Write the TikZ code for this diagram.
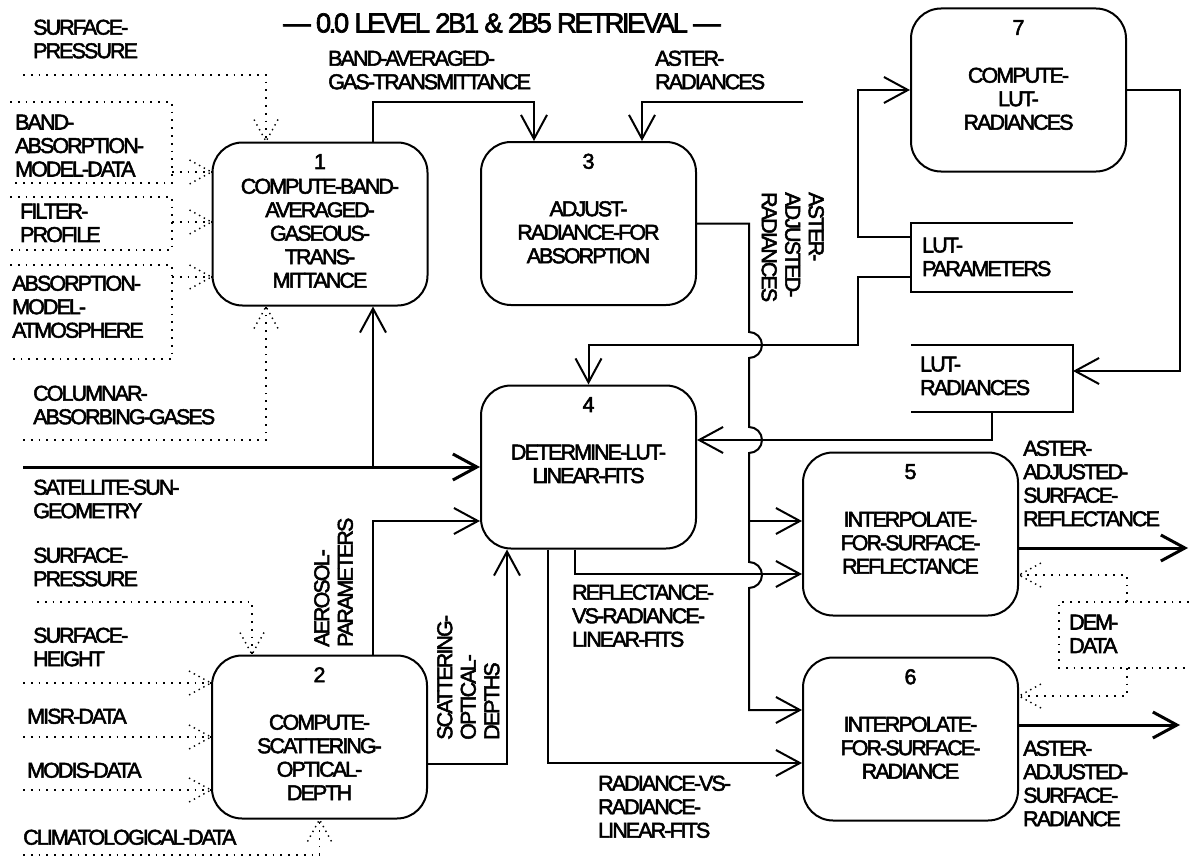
\documentclass[tikz,border=0pt]{standalone}
\usepackage{fontspec}
\setmainfont{Liberation Sans}[LetterSpace=-9,FakeBold=2.4]
\usetikzlibrary{arrows.meta}

\begin{document}
\begin{tikzpicture}[x=1pt,y=-1pt,
		every node/.style={font=\fontsize{21.5}{23.5}\selectfont,inner sep=0pt},
		proc/.style={draw,line width=2pt,rounded corners=30pt,minimum width=215pt,minimum height=163pt},
		lbl/.style={align=left,anchor=north west},
		ctr/.style={align=center,anchor=north},
		flow/.style={line width=2pt,-{Straight Barb[length=24pt,width=26pt]}},
		thickflow/.style={flow,line width=3pt},
		dotline/.style={line width=1.8pt,dash pattern=on 1.8pt off 6pt},
		store/.style={line width=2pt}]
		\useasboundingbox (0,0) rectangle (1189,859);
		\node[font=\fontsize{27.5}{29}\selectfont] (title) at (502,23) {— 0.0 LEVEL 2B1 \& 2B5 RETRIEVAL —};
		% processes
		\node[proc] (p1) at (320,224) {};
		\node[ctr] (p1n) at ([yshift=-12.5pt]p1.north) {1};
		\node[ctr] (p1t) at ([yshift=-37pt]p1.north) {COMPUTE-BAND-\\AVERAGED-\\GASEOUS-\\TRANS-\\MITTANCE};
		\node[proc] (p3) at (588.5,223.5) {};
		\node[ctr] (p3n) at ([yshift=-12.5pt]p3.north) {3};
		\node[ctr] (p3t) at ([yshift=-60pt]p3.north) {ADJUST-\\RADIANCE-FOR\\ABSORPTION};
		\node[proc] (p7) at (1018.5,90) {};
		\node[ctr] (p7n) at ([yshift=-12.5pt]p7.north) {7};
		\node[ctr] (p7t) at ([yshift=-60pt]p7.north) {COMPUTE-\\LUT-\\RADIANCES};
		\node[proc] (p4) at (588.5,467) {};
		\node[ctr] (p4n) at ([yshift=-12.5pt]p4.north) {4};
		\node[ctr] (p4t) at ([yshift=-60pt]p4.north) {DETERMINE-LUT-\\LINEAR-FITS};
		\node[proc] (p2) at (319.5,737) {};
		\node[ctr] (p2n) at ([yshift=-12.5pt]p2.north) {2};
		\node[ctr] (p2t) at ([yshift=-60pt]p2.north) {COMPUTE-\\SCATTERING-\\OPTICAL-\\DEPTH};
		\node[proc] (p5) at (910.5,534) {};
		\node[ctr] (p5n) at ([yshift=-12.5pt]p5.north) {5};
		\node[ctr] (p5t) at ([yshift=-60pt]p5.north) {INTERPOLATE-\\FOR-SURFACE-\\REFLECTANCE};
		\node[proc] (p6) at (910.5,739) {};
		\node[ctr] (p6n) at ([yshift=-12.5pt]p6.north) {6};
		\node[ctr] (p6t) at ([yshift=-60pt]p6.north) {INTERPOLATE-\\FOR-SURFACE-\\RADIANCE};
		% external data
		\node[lbl] (srfp1) at (33,19.5) {SURFACE-\\PRESSURE};
		\node[lbl] (bamd) at (15,114.5) {BAND-\\ABSORPTION-\\MODEL-DATA};
		\node[lbl] (fprof) at (20,203.5) {FILTER-\\PROFILE};
		\node[lbl] (amatm) at (12,275.5) {ABSORPTION-\\MODEL-\\ATMOSPHERE};
		\node[lbl] (colgas) at (33,385.5) {COLUMNAR-\\ABSORBING-GASES};
		\node[lbl] (satsun) at (33,479.5) {SATELLITE-SUN-\\GEOMETRY};
		\node[lbl] (srfp2) at (33,547.5) {SURFACE-\\PRESSURE};
		\node[lbl] (srfh) at (33,627.5) {SURFACE-\\HEIGHT};
		\node[lbl] (misr) at (27,708.5) {MISR-DATA};
		\node[lbl] (modis) at (27,762.5) {MODIS-DATA};
		\node[lbl] (clim) at (23,829.5) {CLIMATOLOGICAL-DATA};
		\node[lbl] (dem) at (1069,614.5) {DEM-\\DATA};
		% flow labels
		\node[lbl] (bagt) at (328,50.5) {BAND-AVERAGED-\\GAS-TRANSMITTANCE};
		\node[lbl] (astr) at (655,50.5) {ASTER-\\RADIANCES};
		\node[lbl,rotate=-90] (aadj) at (824,192) {ASTER-\\ADJUSTED-\\RADIANCES};
		\node[lbl] (lutp) at (922,237.5) {LUT-\\PARAMETERS};
		\node[lbl] (lutr) at (920,356.5) {LUT-\\RADIANCES};
		\node[lbl,rotate=90] (aerp) at (314,647) {AEROSOL-\\PARAMETERS};
		\node[lbl,rotate=90] (scod) at (437,740) {SCATTERING-\\OPTICAL-\\DEPTHS};
		\node[lbl] (rvr) at (572,584.5) {REFLECTANCE-\\VS-RADIANCE-\\LINEAR-FITS};
		\node[lbl] (rvsr) at (598,775.5) {RADIANCE-VS-\\RADIANCE-\\LINEAR-FITS};
		\node[lbl] (asrf) at (1023,440.5) {ASTER-\\ADJUSTED-\\SURFACE-\\REFLECTANCE};
		\node[lbl] (asrd) at (1023,740.5) {ASTER-\\ADJUSTED-\\SURFACE-\\RADIANCE};
		% stores
		\draw[dotline] (10,102) -| (172,183) -- (10,183);
		\draw[dotline] (10,197) -| (172,250) -- (10,250);
		\draw[dotline] (10,265) -| (172,359) -- (10,359);
		\draw[store] (1073,223) -| (911,292) -- (1073,292);
		\draw[store] (911,345) -| (1073,412) -- (911,412);
		\draw[dotline] (1189,602) -| (1059,668) -- (1189,668);
		% solid flows
		\coordinate (astrin) at (803,102);
		\coordinate (satin) at (23,467);
		\coordinate (lutpa) at (911,237);
		\coordinate (lutpb) at (911,277);
		\coordinate (lutrin) at (1073,371);
		\coordinate (lutrout) at (992,412);
		\coordinate (asrfout) at (1188,548);
		\coordinate (asrdout) at (1180,725);
		\draw[flow] ([xshift=53pt]p1.north) |- (534,102) -- ([xshift=-54.5pt]p3.north);
		\draw[flow] (astrin) -| ([xshift=53.5pt]p3.north);
		\draw[flow] (p3.east) -| (749,332) arc[start angle=-90,end angle=90,radius=13]
			-- (749,427) arc[start angle=-90,end angle=90,radius=13]
			-- (749,562) arc[start angle=-90,end angle=90,radius=13]
			|- ([yshift=29pt]p6.west);
		\draw[flow] (749,521) -- ([yshift=13pt]p5.west);
		\draw[flow] (lutpa) -| (858,90) -- (p7.west);
		\draw[flow] (lutpb) -| (858,345) -| (p4.north);
		\draw[flow] (p7.east) -| (1180,371) -- (lutrin);
		\draw[flow] (lutrout) |- ([yshift=27pt]p4.east);
		\draw[thickflow] (satin) -- (p4.west);
		\draw[flow] (373,467) -- ([xshift=53pt]p1.south);
		\draw[flow] ([xshift=53.5pt]p2.north) |- ([yshift=-54pt]p4.west);
		\draw[flow] ([yshift=-27pt]p2.east) -| ([xshift=-81.5pt]p4.south);
		\draw[flow] ([xshift=-13.5pt]p4.south) |- ([yshift=-40pt]p5.west);
		\draw[flow] ([xshift=-40.5pt]p4.south) |- ([yshift=-24pt]p6.west);
		\draw[thickflow] ([yshift=-14pt]p5.east) -- (asrfout);
		\draw[thickflow] ([yshift=14pt]p6.east) -- (asrdout);
		% dotted flows
		\coordinate (t1) at ([xshift=-54pt]p1.north);
		\coordinate (t2) at ([yshift=52pt]p1.west);
		\coordinate (t3) at ([yshift=2pt]p1.west);
		\coordinate (t4) at ([yshift=-53pt]p1.west);
		\coordinate (t5) at ([xshift=-54pt]p1.south);
		\coordinate (t6) at ([xshift=-67.5pt]p2.north);
		\coordinate (t7) at ([yshift=54pt]p2.west);
		\coordinate (t8) at (p2.west);
		\coordinate (t9) at ([yshift=-53pt]p2.west);
		\coordinate (t10) at (p2.south);
		\coordinate (t11) at ([yshift=-41pt]p5.east);
		\coordinate (t12) at ([yshift=43pt]p6.east);
		\draw[dotline] (23,75) -| (t1);
		\draw[dotline] (172,172) -- (t2);
		\draw[dotline] (172,222) -- (t3);
		\draw[dotline] (172,277) -- (t4);
		\draw[dotline] (23,440) -| (t5);
		\draw[dotline] (37,602) -| (t6);
		\draw[dotline] (23,683) -- (t7);
		\draw[dotline] (23,737) -- (t8);
		\draw[dotline] (23,790) -- (t9);
		\draw[dotline] (23,855) -| (t10);
		\draw[dotline] (1127,602) |- (t11);
		\draw[dotline] (1127,668) |- (t12);
		\foreach \t/\a in {t1/-90,t2/0,t3/0,t4/0,t5/90,t6/-90,t7/0,t8/0,t9/0,t10/90,t11/180,t12/180}
			\draw[dotline,line width=1.4pt,dash pattern=on 1.4pt off 4pt,shift={(\t)},rotate=\a] (-22,-12) -- (0,0) -- (-22,12);
	\end{tikzpicture}
\end{document}
